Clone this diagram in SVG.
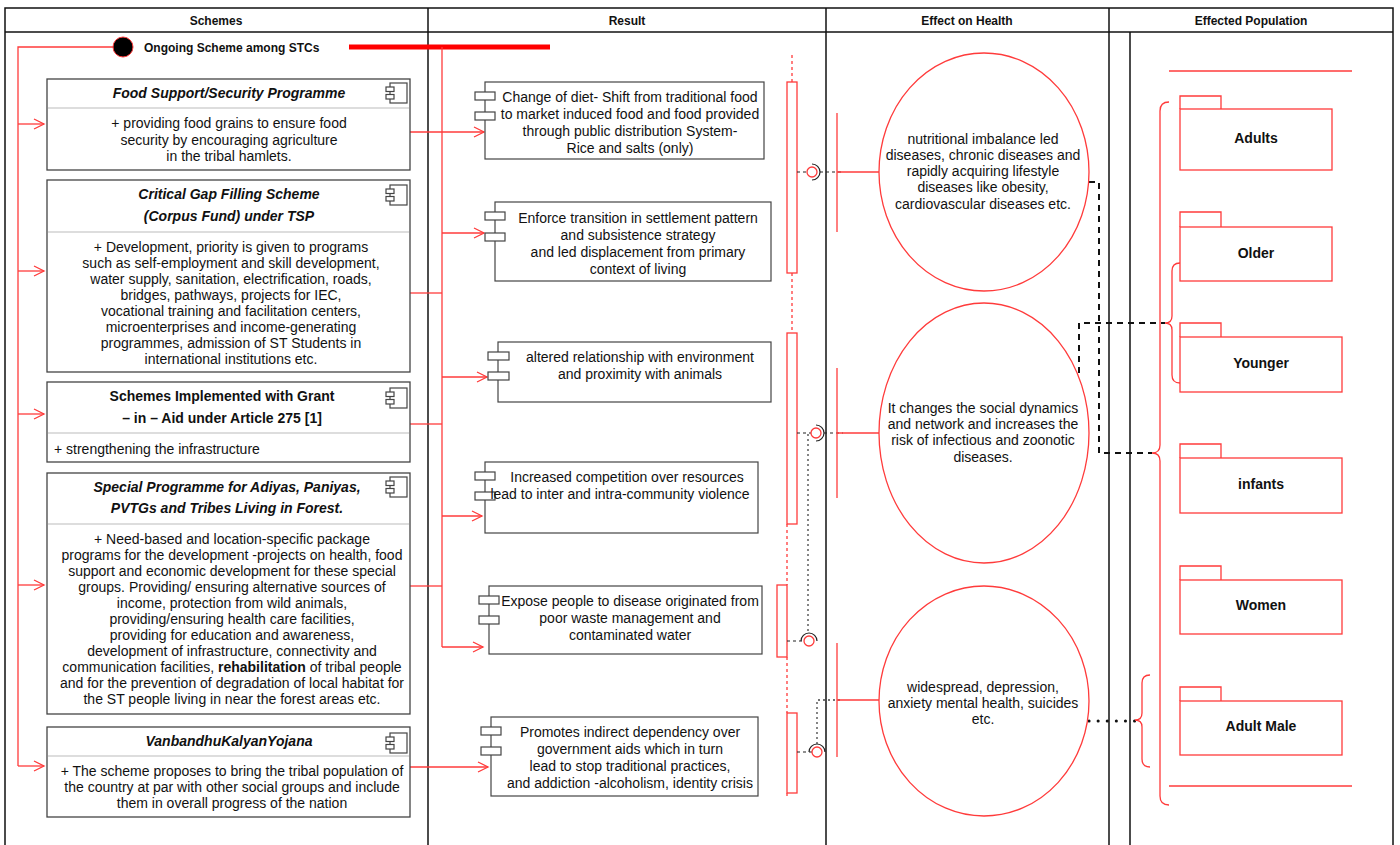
<svg xmlns="http://www.w3.org/2000/svg" width="1400" height="845" viewBox="0 0 1400 845">
<style>
text{font-family:"Liberation Sans",Arial,sans-serif;fill:#111}
.hd{font-size:12px;font-weight:bold;text-anchor:middle}
.t{font-size:14px;text-anchor:middle}
.tl{font-size:14px}
.ti{font-size:14px;font-weight:bold;font-style:italic;text-anchor:middle}
.tb{font-size:14px;font-weight:bold;text-anchor:middle}
.pk{font-size:14px;font-weight:bold;text-anchor:middle}
.box{fill:#fff;stroke:#444;stroke-width:1.3}
.div{stroke:#bbb;stroke-width:1.2}
.rbox{fill:#fff;stroke:#444;stroke-width:1.2}
.ic{fill:#fff;stroke:#444;stroke-width:1.2}
.red{fill:none;stroke:#ff3b3b;stroke-width:1.3}
.redf{fill:#fff;stroke:#ff3b3b;stroke-width:1.3}
.arr{fill:none;stroke:#ff3b3b;stroke-width:1.3;marker-end:url(#oa)}
.rdot{fill:none;stroke:#ff3b3b;stroke-width:1.3;stroke-dasharray:3 3}
.kdash{fill:none;stroke:#222;stroke-width:1.2;stroke-dasharray:3 3}
.kdot{fill:none;stroke:#444;stroke-width:1.3;stroke-dasharray:2 3}
.bdash{fill:none;stroke:#111;stroke-width:2;stroke-dasharray:6 5}
.frame{fill:none;stroke:#111;stroke-width:1.5}
</style>
<defs>
<marker id="oa" markerUnits="userSpaceOnUse" markerWidth="14" markerHeight="14" refX="11" refY="6" orient="auto">
<path d="M1,1 L11,6 L1,11" fill="none" stroke="#ff3b3b" stroke-width="1.3"/>
</marker>
<g id="cicon">
<rect x="4" y="0" width="17" height="20" fill="#fff" stroke="#444" stroke-width="1.2"/>
<rect x="0" y="4" width="8" height="4.5" fill="#fff" stroke="#444" stroke-width="1.2"/>
<rect x="0" y="11.5" width="8" height="4.5" fill="#fff" stroke="#444" stroke-width="1.2"/>
</g>
</defs>
<rect width="1400" height="845" fill="#fff"/>

<g id="frame">
<rect class="frame" x="5" y="8" width="1388" height="850"/>
<line class="frame" x1="5" y1="32" x2="1393" y2="32"/>
<line class="frame" x1="428" y1="8" x2="428" y2="845"/>
<line class="frame" x1="826" y1="8" x2="826" y2="845"/>
<line class="frame" x1="1109" y1="8" x2="1109" y2="845"/>
<line class="frame" x1="1130" y1="32" x2="1130" y2="845" stroke-width="1.2"/>
<text class="hd" x="216" y="24.5">Schemes</text>
<text class="hd" x="627" y="24.5">Result</text>
<text class="hd" x="967" y="24.5">Effect on Health</text>
<text class="hd" x="1251" y="24.5">Effected Population</text>
</g>

<g id="connectors">
<line x1="349" y1="47" x2="550" y2="47" stroke="#ff0000" stroke-width="5"/>
<path class="red" d="M113,47 H18 V766"/>
<path class="red" d="M442,47 V647"/>
<line class="arr" x1="18" y1="124" x2="44" y2="124"/>
<line class="arr" x1="18" y1="271" x2="44" y2="271"/>
<line class="arr" x1="18" y1="414" x2="44" y2="414"/>
<line class="arr" x1="18" y1="585" x2="44" y2="585"/>
<line class="arr" x1="18" y1="766" x2="44" y2="766"/>
<line class="arr" x1="410" y1="132" x2="484" y2="132"/>
<line class="red" x1="410" y1="293" x2="442" y2="293"/>
<line class="red" x1="410" y1="424" x2="442" y2="424"/>
<line class="red" x1="410" y1="586" x2="442" y2="586"/>
<line class="arr" x1="442" y1="233" x2="484" y2="233"/>
<line class="arr" x1="442" y1="377" x2="487" y2="377"/>
<line class="arr" x1="442" y1="516" x2="482" y2="516"/>
<line class="arr" x1="442" y1="647" x2="483" y2="647"/>
<line class="arr" x1="410" y1="767" x2="488" y2="767"/>

<line class="rdot" x1="792" y1="55" x2="792" y2="82"/>
<rect class="redf" x="787" y="82" width="10" height="191"/>
<line class="rdot" x1="792" y1="273" x2="792" y2="333"/>
<rect class="redf" x="787" y="333" width="10" height="191"/>
<line class="rdot" x1="787" y1="524" x2="787" y2="585"/>
<rect class="redf" x="777" y="585" width="10" height="72"/>
<line class="rdot" x1="787" y1="657" x2="787" y2="713"/>
<rect class="redf" x="787" y="713" width="10" height="80"/>
<line class="rdot" x1="787" y1="793" x2="787" y2="798"/>

<line class="kdash" x1="797" y1="172" x2="807" y2="172"/>
<circle class="redf" cx="812" cy="172" r="5"/>
<path d="M812,164 A8,8 0 0 1 812,180" fill="none" stroke="#222" stroke-width="1.2"/>
<line class="kdash" x1="820" y1="172" x2="843" y2="172"/>

<line class="kdash" x1="797" y1="433" x2="811" y2="433"/>
<circle class="redf" cx="816" cy="433" r="5"/>
<path d="M816,425 A8,8 0 0 1 816,441" fill="none" stroke="#222" stroke-width="1.2"/>
<line class="kdash" x1="824" y1="433" x2="843" y2="433"/>
<line class="kdot" x1="808" y1="434" x2="808" y2="633"/>

<line class="kdash" x1="787" y1="641" x2="804" y2="641"/>
<circle class="redf" cx="809" cy="641" r="5"/>
<path d="M801,641 A8,8 0 0 1 817,641" fill="none" stroke="#222" stroke-width="1.2"/>

<line class="kdash" x1="797" y1="752" x2="812" y2="752"/>
<circle class="redf" cx="817" cy="752" r="5"/>
<path d="M809,752 A8,8 0 0 1 825,752" fill="none" stroke="#222" stroke-width="1.2"/>
<path class="kdot" d="M817,744 V700 H840"/>

<line class="red" x1="837" y1="113" x2="837" y2="232"/>
<line class="red" x1="837" y1="172" x2="879" y2="172"/>
<line class="red" x1="837" y1="368" x2="837" y2="498"/>
<line class="red" x1="837" y1="433" x2="879" y2="433"/>
<line class="red" x1="837" y1="643" x2="837" y2="757"/>
<line class="red" x1="837" y1="700" x2="879" y2="700"/>

<path class="bdash" d="M1089,182 H1099 V453 H1152"/>
<path class="bdash" d="M1079,373 V323 H1165"/>
<path d="M1089,721 H1135" fill="none" stroke="#111" stroke-width="3" stroke-linecap="round" stroke-dasharray="0.1 9"/>

<path class="red" d="M1169,102 Q1160,102 1160,111 V445 Q1160,453 1152,453 Q1160,453 1160,461 V796 Q1160,805 1169,805"/>
<path class="red" d="M1180,263 Q1172,263 1172,271 V316 Q1172,323 1165,323 Q1172,323 1172,330 V375 Q1172,383 1180,383"/>
<path class="red" d="M1150,675 Q1142,675 1142,683 V713 Q1142,720 1135,720 Q1142,720 1142,727 V759 Q1142,767 1150,767"/>
<line class="red" x1="1169" y1="71" x2="1352" y2="71"/>
<line class="red" x1="1169" y1="786" x2="1352" y2="786"/>
</g>

<g id="start">
<circle cx="123" cy="47" r="10" fill="#000" stroke="#ff3b3b" stroke-width="1"/>
<text x="144" y="51.5" font-size="12" font-weight="bold">Ongoing Scheme among STCs</text>
</g>

<g id="scheme-food">
<rect class="box" x="47" y="79" width="363" height="91"/>
<line class="div" x1="48" y1="108" x2="409" y2="108"/>
<use href="#cicon" x="386" y="83"/>
<text class="ti" x="229" y="98">Food Support/Security Programme</text>
<text class="t"><tspan x="229" y="128">+ providing food grains to ensure food</tspan><tspan x="229" y="144.5">security by encouraging agriculture</tspan><tspan x="229" y="161">in the tribal hamlets.</tspan></text>
</g>

<g id="scheme-critical">
<rect class="box" x="47" y="180" width="363" height="192"/>
<line class="div" x1="48" y1="232" x2="409" y2="232"/>
<use href="#cicon" x="386" y="185"/>
<text class="ti"><tspan x="229" y="199">Critical Gap Filling Scheme</tspan><tspan x="229" y="221">(Corpus Fund) under TSP</tspan></text>
<text class="t"><tspan x="231" y="252">+ Development, priority is given to programs</tspan><tspan x="231" y="268">such as self-employment and skill development,</tspan><tspan x="231" y="284">water supply, sanitation, electrification, roads,</tspan><tspan x="231" y="300">bridges, pathways, projects for IEC,</tspan><tspan x="231" y="316">vocational training and facilitation centers,</tspan><tspan x="231" y="332">microenterprises and income-generating</tspan><tspan x="231" y="348">programmes, admission of ST Students in</tspan><tspan x="231" y="364">international institutions etc.</tspan></text>
</g>

<g id="scheme-grant">
<rect class="box" x="47" y="382" width="363" height="80"/>
<line class="div" x1="48" y1="433" x2="409" y2="433"/>
<use href="#cicon" x="386" y="388"/>
<text class="tb"><tspan x="222" y="401">Schemes Implemented with Grant</tspan><tspan x="222" y="423">– in – Aid under Article 275 [1]</tspan></text>
<text class="tl" x="54" y="454">+ strengthening the infrastructure</text>
</g>

<g id="scheme-special">
<rect class="box" x="47" y="473" width="363" height="241"/>
<line class="div" x1="48" y1="524" x2="409" y2="524"/>
<use href="#cicon" x="386" y="477"/>
<text class="ti"><tspan x="227" y="492">Special Programme for Adiyas, Paniyas,</tspan><tspan x="227" y="513">PVTGs and Tribes Living in Forest.</tspan></text>
<text class="t"><tspan x="232" y="544">+ Need-based and location-specific package</tspan><tspan x="232" y="560">programs for the development -projects on health, food</tspan><tspan x="232" y="576">support and economic development for these special</tspan><tspan x="232" y="592">groups. Providing/ ensuring alternative sources of</tspan><tspan x="232" y="608">income, protection from wild animals,</tspan><tspan x="232" y="624">providing/ensuring health care facilities,</tspan><tspan x="232" y="640">providing for education and awareness,</tspan><tspan x="232" y="656">development of infrastructure, connectivity and</tspan><tspan x="232" y="672">communication facilities, <tspan font-weight="bold">rehabilitation</tspan> of tribal people</tspan><tspan x="232" y="688">and for the prevention of degradation of local habitat for</tspan><tspan x="232" y="704">the ST people living in near the forest areas etc.</tspan></text>
</g>

<g id="scheme-vanbandhu">
<rect class="box" x="47" y="727" width="363" height="90"/>
<line class="div" x1="48" y1="756" x2="409" y2="756"/>
<use href="#cicon" x="386" y="733"/>
<text class="ti" x="229" y="746">VanbandhuKalyanYojana</text>
<text class="t"><tspan x="232" y="776">+ The scheme proposes to bring the tribal population of</tspan><tspan x="232" y="792">the country at par with other social groups and include</tspan><tspan x="232" y="808">them in overall progress of the nation</tspan></text>
</g>

<g id="result-diet">
<rect class="rbox" x="485" y="82" width="279" height="77"/>
<rect class="ic" x="475" y="92" width="20" height="8"/>
<rect class="ic" x="475" y="112" width="20" height="8"/>
<text class="t"><tspan x="630" y="102">Change of diet- Shift from traditional food</tspan><tspan x="630" y="119">to market induced food and food provided</tspan><tspan x="630" y="136">through public distribution System-</tspan><tspan x="630" y="153">Rice and salts (only)</tspan></text>
</g>

<g id="result-settlement">
<rect class="rbox" x="495" y="202" width="276" height="79"/>
<rect class="ic" x="485" y="212" width="20" height="8"/>
<rect class="ic" x="485" y="233" width="20" height="8"/>
<text class="t"><tspan x="638" y="223">Enforce transition in settlement pattern</tspan><tspan x="638" y="240">and subsistence strategy</tspan><tspan x="638" y="257">and led displacement from primary</tspan><tspan x="638" y="274">context of living</tspan></text>
</g>

<g id="result-environment">
<rect class="rbox" x="498" y="342" width="273" height="60"/>
<rect class="ic" x="488" y="352" width="21" height="8"/>
<rect class="ic" x="488" y="372" width="21" height="8"/>
<text class="t"><tspan x="640" y="362">altered relationship with environment</tspan><tspan x="640" y="379">and proximity with animals</tspan></text>
</g>

<g id="result-competition">
<rect class="rbox" x="485" y="462" width="273" height="71"/>
<rect class="ic" x="475" y="472" width="20" height="8"/>
<rect class="ic" x="475" y="492" width="20" height="8"/>
<text class="t"><tspan x="627" y="482">Increased competition over resources</tspan><tspan x="620" y="499">lead to inter and intra-community violence</tspan></text>
</g>

<g id="result-disease">
<rect class="rbox" x="489" y="586" width="273" height="68"/>
<rect class="ic" x="479" y="596" width="20" height="8"/>
<rect class="ic" x="479" y="616" width="20" height="8"/>
<text class="t"><tspan x="630" y="606">Expose people to disease originated from</tspan><tspan x="630" y="623">poor waste management and</tspan><tspan x="630" y="640">contaminated water</tspan></text>
</g>

<g id="result-dependency">
<rect class="rbox" x="491" y="717" width="267" height="79"/>
<rect class="ic" x="481" y="727" width="20" height="8"/>
<rect class="ic" x="481" y="747" width="20" height="8"/>
<text class="t"><tspan x="630" y="737">Promotes indirect dependency over</tspan><tspan x="630" y="754">government aids which in turn</tspan><tspan x="630" y="771">lead to stop traditional practices,</tspan><tspan x="630" y="788">and addiction -alcoholism, identity crisis</tspan></text>
</g>

<g id="health-nutrition">
<ellipse class="redf" cx="984" cy="172" rx="105" ry="119"/>
<text class="t"><tspan x="983" y="144">nutritional imbalance led</tspan><tspan x="983" y="160">diseases, chronic diseases and</tspan><tspan x="983" y="176">rapidly acquiring lifestyle</tspan><tspan x="983" y="192">diseases like obesity,</tspan><tspan x="983" y="208.5">cardiovascular diseases etc.</tspan></text>
</g>

<g id="health-social">
<ellipse class="redf" cx="984" cy="433" rx="105" ry="130"/>
<text class="t"><tspan x="983" y="413">It changes the social dynamics</tspan><tspan x="983" y="429">and network and increases the</tspan><tspan x="983" y="445">risk of infectious and zoonotic</tspan><tspan x="983" y="461.5">diseases.</tspan></text>
</g>

<g id="health-mental">
<ellipse class="redf" cx="984" cy="701" rx="105" ry="115"/>
<text class="t"><tspan x="983" y="692">widespread, depression,</tspan><tspan x="983" y="708">anxiety mental health, suicides</tspan><tspan x="983" y="724">etc.</tspan></text>
</g>

<g id="pop-adults">
<path class="redf" d="M1180,109 V96 H1221 V109"/>
<rect class="redf" x="1180" y="109" width="152" height="61"/>
<text class="pk" x="1256" y="143">Adults</text>
</g>
<g id="pop-older">
<path class="redf" d="M1180,227 V212 H1221 V227"/>
<rect class="redf" x="1180" y="227" width="152" height="54"/>
<text class="pk" x="1256" y="258">Older</text>
</g>
<g id="pop-younger">
<path class="redf" d="M1180,337 V323 H1221 V337"/>
<rect class="redf" x="1180" y="337" width="162" height="55"/>
<text class="pk" x="1261" y="368">Younger</text>
</g>
<g id="pop-infants">
<path class="redf" d="M1180,458 V444 H1221 V458"/>
<rect class="redf" x="1180" y="458" width="162" height="55"/>
<text class="pk" x="1261" y="489">infants</text>
</g>
<g id="pop-women">
<path class="redf" d="M1180,580 V566 H1221 V580"/>
<rect class="redf" x="1180" y="580" width="162" height="54"/>
<text class="pk" x="1261" y="610">Women</text>
</g>
<g id="pop-adultmale">
<path class="redf" d="M1180,701 V687 H1221 V701"/>
<rect class="redf" x="1180" y="701" width="162" height="54"/>
<text class="pk" x="1261" y="731">Adult Male</text>
</g>
</svg>
